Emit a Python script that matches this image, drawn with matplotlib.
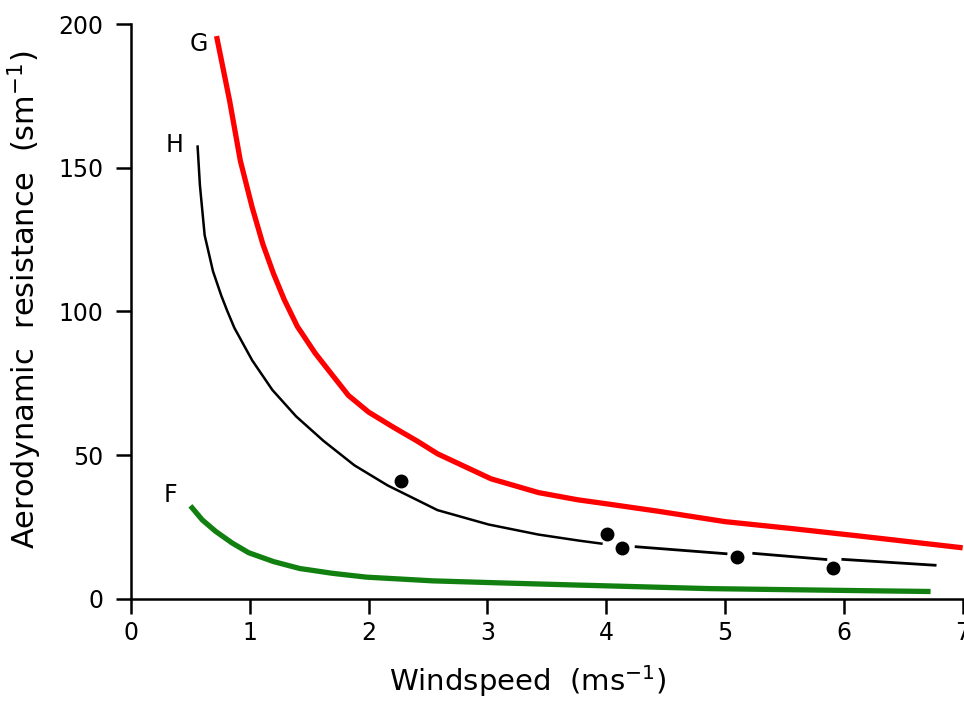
import matplotlib.pyplot as plt
import numpy as np

# curve G (red)
g_x = [0.72, 0.83, 0.92, 1.02, 1.11, 1.20, 1.29, 1.40, 1.55, 1.70, 1.83, 2.00, 2.21,
       2.41, 2.58, 3.03, 3.43, 3.76, 4.02, 4.44, 5.00, 5.56, 6.13, 7.00]
g_y = [195.8, 173.3, 152.5, 136.2, 123.4, 113.1, 104.1, 94.8, 85.5, 77.6, 70.8, 65.0, 59.7,
       54.9, 50.5, 41.8, 37.0, 34.5, 33.0, 30.5, 26.9, 24.5, 21.9, 17.8]

# curve H (black), solid part
h_x = [0.56, 0.58, 0.62, 0.69, 0.76, 0.81, 0.87, 1.02, 1.19, 1.39, 1.62, 1.88, 2.16,
       2.58, 3.01, 3.43, 3.77, 3.97]
h_y = [157.8, 143.9, 126.5, 114.0, 105.5, 100.2, 94.3, 83.0, 72.7, 63.5, 55.0, 46.5, 39.5,
       30.9, 25.9, 22.4, 20.3, 19.2]
# broken tail of H (pairs of segment ends)
h_tail_x = [4.24, 5.02, 5.23, 5.86, 5.98, 6.78]
h_tail_y = [18.2, 15.7, 15.9, 13.7, 13.8, 11.7]

# curve F (green)
f_x = [0.50, 0.60, 0.71, 0.85, 0.99, 1.20, 1.42, 1.70, 1.98, 2.54, 3.10, 3.70, 4.87, 6.14, 6.73]
f_y = [32.4, 27.5, 23.6, 19.5, 16.1, 13.0, 10.6, 8.9, 7.6, 6.3, 5.6, 4.9, 3.6, 2.9, 2.6]

# measured points
pt_x = [2.27, 4.01, 4.13, 5.10, 5.91]
pt_y = [40.9, 22.5, 17.8, 14.7, 10.9]

x_ticks = [0, 1, 2, 3, 4, 5, 6, 7]
y_ticks = [0, 50, 100, 150, 200]

plt.rcParams['font.family'] = ['DejaVu Sans']

fig = plt.figure(figsize=(9.64, 7.06), dpi=100)
ax = fig.add_axes([0.1359, 0.1516, 0.8627, 0.8144])

ax.plot(h_x, h_y, color='black', lw=1.8, solid_capstyle='butt')
for i in range(0, len(h_tail_x), 2):
    ax.plot(h_tail_x[i:i+2], h_tail_y[i:i+2], color='black', lw=2.0, solid_capstyle='butt')
ax.plot(pt_x, pt_y, 'o', color='black', ms=9, ls='none')

ax.plot(g_x, g_y, color='#ff0000', lw=3.8, solid_capstyle='butt', clip_on=False)
ax.plot(f_x, f_y, color='#118011', lw=3.8, solid_capstyle='butt')

ax.text(0.57, 193, 'G', fontsize=17, ha='center', va='center')
ax.text(0.37, 158, 'H', fontsize=17, ha='center', va='center')
ax.text(0.33, 36, 'F', fontsize=17, ha='center', va='center')

ax.set_xlim(0, 7)
ax.set_ylim(0, 200)
ax.set_xticks(x_ticks)
ax.set_yticks(y_ticks)
ax.spines['top'].set_visible(False)
ax.spines['right'].set_visible(False)
for s in ['left', 'bottom']:
    ax.spines[s].set_linewidth(1.8)
ax.tick_params(axis='both', direction='out', length=11, width=1.8, labelsize=17)
ax.tick_params(axis='y', pad=9)
ax.tick_params(axis='x', pad=5)

ax.set_xlabel('Windspeed  (ms$^{-1}$)', fontsize=21)
ax.xaxis.set_label_coords(0.477, -0.112)
ax.set_ylabel('Aerodynamic  resistance  (sm$^{-1}$)', fontsize=22)
ax.yaxis.set_label_coords(-0.105, 0.52)

fig.savefig('out.png', dpi=100)
